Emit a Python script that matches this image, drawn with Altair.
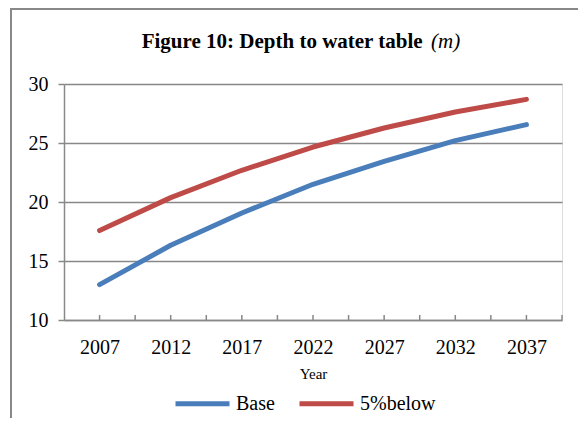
import altair as alt
import pandas as pd

# ---- data ----
years = [2007, 2012, 2017, 2022, 2027, 2032, 2037]
base = [13.0, 16.33, 19.07, 21.5, 23.45, 25.2, 26.56]
below5 = [17.58, 20.37, 22.69, 24.66, 26.27, 27.63, 28.7]
series_names = ["Base", "5%below"]
x_label_years = [2007, 2012, 2017, 2022, 2027, 2032, 2037]
x_tick_years = [2007, 2009.5, 2012, 2014.5, 2017, 2019.5, 2022, 2024.5,
                2027, 2029.5, 2032, 2034.5, 2037, 2039.5]
y_ticks = [10, 15, 20, 25, 30]
title_main = "Figure 10: Depth to water table"
title_unit = "(m)"
x_title = "Year"

rows = []
for y, b, r in zip(years, base, below5):
    rows.append({"Year": y, "Series": series_names[0], "Depth": b})
    rows.append({"Year": y, "Series": series_names[1], "Depth": r})
df = pd.DataFrame(rows)

FONT = "Liberation Serif"
GREY = "#888888"
W, H = 498, 236

xscale = alt.Scale(domain=[2004.5, 2039.5], nice=False, zero=False)
yscale = alt.Scale(domain=[10, 30], nice=False, zero=False)

lines = alt.Chart(df).mark_line(strokeWidth=5, strokeCap="round", strokeJoin="round").encode(
    x=alt.X("Year:Q", scale=xscale,
            axis=alt.Axis(values=x_label_years, format="d", title=x_title,
                          ticks=False, grid=False, domainColor=GREY, domainWidth=1.5,
                          labelFontSize=20, labelFont=FONT, labelColor="black",
                          labelPadding=17, titleFont=FONT, titleFontSize=15,
                          titleFontWeight="normal", titleColor="black", titlePadding=9)),
    y=alt.Y("Depth:Q", scale=yscale,
            axis=alt.Axis(values=y_ticks, title=None, tickSize=6, tickColor=GREY,
                          tickWidth=1.5, domainColor=GREY, domainWidth=1.5,
                          gridColor=GREY, gridWidth=1.5, labelFontSize=20,
                          labelFont=FONT, labelColor="black", labelPadding=10)),
    color=alt.Color("Series:N",
                    scale=alt.Scale(domain=series_names, range=["#4A7EBB", "#BE4B48"]),
                    sort=series_names,
                    legend=alt.Legend(title=None, orient="none", direction="horizontal",
                                      legendX=109, legendY=290,
                                      symbolType="stroke", symbolSize=2916,
                                      symbolStrokeWidth=5, labelFontSize=20,
                                      labelFont=FONT, labelColor="black",
                                      labelOffset=4, columnPadding=14)),
)

ticks_df = pd.DataFrame({"Year": x_tick_years})
xticks = alt.Chart(ticks_df).mark_rule(color=GREY, strokeWidth=1.5).encode(
    x=alt.X("Year:Q", scale=xscale),
    y=alt.value(H),
    y2=alt.value(H - 5),
)

t1 = alt.Chart(pd.DataFrame({"t": [title_main]})).mark_text(
    font=FONT, fontSize=21, fontWeight="bold", align="left", baseline="alphabetic",
    color="black").encode(text="t:N", x=alt.value(77.7), y=alt.value(-35.7))
t2 = alt.Chart(pd.DataFrame({"t": [title_unit]})).mark_text(
    font=FONT, fontSize=21, fontStyle="italic", align="left", baseline="alphabetic",
    color="black").encode(text="t:N", x=alt.value(367), y=alt.value(-35.7))

frame = alt.Chart(pd.DataFrame({"a": [0]})).mark_rect(
    fill=None, stroke=GREY, strokeWidth=2).encode(
    x=alt.value(-53), x2=alt.value(800), y=alt.value(-75), y2=alt.value(800))

chart = alt.layer(frame, xticks, lines, t1, t2).properties(
    width=W, height=H,
    autosize=alt.AutoSizeParams(type="none"),
    padding={"left": 56, "top": 76, "right": 16, "bottom": 98},
).configure_view(stroke=None).configure(font=FONT)

chart.save("out.html", embed_options={"renderer": "svg", "actions": False})
